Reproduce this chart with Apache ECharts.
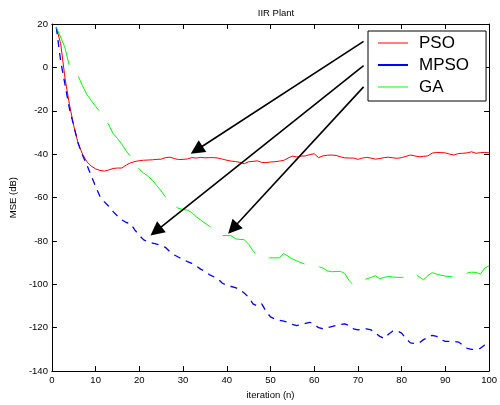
<!DOCTYPE html>
<html>
<head>
<meta charset="utf-8">
<style>html,body{margin:0;padding:0;background:#fff;}#c{width:500px;height:405px;}</style>
<script src="https://cdn.jsdelivr.net/npm/echarts@6/dist/echarts.min.js"></script>
</head>
<body>
<div id="c"></div>
<script>
var iterations = [1,2,3,4,5,6,7,8,9,10,11,12,13,14,15,16,17,18,19,20,21,22,23,24,25,26,27,28,29,30,31,32,33,34,35,36,37,38,39,40,41,42,43,44,45,46,47,48,49,50,51,52,53,54,55,56,57,58,59,60,61,62,63,64,65,66,67,68,69,70,71,72,73,74,75,76,77,78,79,80,81,82,83,84,85,86,87,88,89,90,91,92,93,94,95,96,97,98,99,100];
var psoValues = [18.5,11,-5,-17,-27,-35,-40,-43.5,-45.5,-46.8,-47.5,-47.8,-47.3,-46.6,-46.4,-46.4,-45,-44,-43.4,-43,-42.8,-42.7,-42.6,-42.4,-42.3,-41.6,-41.4,-42,-42.5,-42.4,-42.2,-41.6,-41.8,-41.5,-41.7,-41.6,-41.6,-41.8,-42.3,-42.8,-43.2,-43.4,-43.8,-44.4,-43.5,-43.3,-43.1,-43.8,-43.9,-43.6,-43.5,-43.2,-42.9,-41.8,-40.9,-41.3,-40.9,-40.8,-40.2,-39.8,-41.6,-40.8,-40.5,-40.4,-40.6,-41.2,-41.7,-41.8,-41.8,-42.4,-41.8,-41.5,-41.8,-42.3,-42.0,-41.6,-41.4,-41.7,-41.9,-41.6,-41.0,-40.4,-40.8,-41.2,-41.0,-40.8,-39.5,-39.2,-39.3,-39.4,-40.0,-40.4,-39.7,-39.6,-39.4,-38.9,-39.6,-39.3,-39.2,-39.4];
var mpsoValues = [18.5,3,-8,-19,-27,-35,-40.5,-45,-50,-55,-59.5,-62,-64,-66.5,-68.5,-70.3,-71.5,-72,-75,-77.5,-79.5,-80.5,-81,-81.5,-82.2,-83,-85,-86.5,-87.5,-88.5,-89.5,-90.3,-91.5,-93,-94,-95.5,-96.5,-97.5,-99.5,-100.5,-101,-101.5,-102.5,-104,-106,-109,-110,-109,-112.5,-115,-116,-116.5,-117,-117.5,-118.5,-119,-118.5,-118,-117.5,-118.5,-120,-120.5,-120,-119.5,-119,-118.5,-118.2,-119,-120.5,-121,-120.7,-120.5,-121,-122.5,-124,-125,-123,-121.5,-121.5,-122.5,-125,-127,-127.3,-127,-125.5,-124.5,-123.5,-124,-125.5,-126.3,-126.3,-126.3,-126.6,-128,-129.5,-130,-130,-129.5,-128,-127.5];
var gaValues = [18.5,14,9,0.6,-2,-4,-8.5,-12.5,-15.3,-18,-20.5,-23.5,-26.5,-30.5,-32.8,-35.5,-38.5,-41,-44.5,-47,-48.7,-50.2,-52,-54.5,-57,-59.8,-62,-64,-65,-65.5,-65.8,-67,-68.8,-70.3,-71.8,-73.2,-74.4,-76,-77.5,-77.5,-77.6,-79,-79.3,-79.4,-81.5,-84.5,-86.7,-87.5,-87.8,-87.8,-87.8,-87.8,-85.8,-87,-88.3,-89.2,-90,-90.8,-91.2,-91.5,-91.8,-92.5,-93.8,-94.2,-94.1,-94,-95,-98.3,-100.3,-99,-97.9,-97.5,-96.8,-96,-97.5,-96.8,-96.4,-96.6,-96.8,-96.8,-96.8,-96.8,-95.3,-96.5,-97.9,-96,-94.6,-95.3,-95.8,-96.2,-96.4,-96.6,-96.6,-95.8,-94.8,-94.4,-94.5,-95.3,-92.5,-91.5];
var seriesNames = ['PSO','MPSO','GA'];
var xTicks = [0,10,20,30,40,50,60,70,80,90,100];
var yTicks = [-140,-120,-100,-80,-60,-40,-20,0,20];
// annotation arrows: [start x, start y] -> [end x, end y] in data units
var arrowStarts = [[71.3,12.0],[71.3,0.8],[71.3,-9.0]];
var arrowEnds = [[33.1,-38.1],[23.8,-75.5],[41.4,-74.3]];

function pairs(vals){ return iterations.map(function(it,i){ return [it, vals[i]]; }); }
var FONT = 'Liberation Sans, Arial, sans-serif';
var arrowData = arrowStarts.map(function(s,i){ return [{coord:s},{coord:arrowEnds[i]}]; });

var chart = echarts.init(document.getElementById('c'), null, {renderer:'canvas'});
var axisCommon = {
  type:'value', axisLine:{show:true, onZero:false, lineStyle:{color:'#000', width:1}},
  axisTick:{show:true, inside:true, length:5, lineStyle:{color:'#000'}},
  splitLine:{show:false}
};
chart.setOption({
  animation:false,
  backgroundColor:'#fff',
  title:{text:'IIR Plant', left:271, top:3, textAlign:'center',
    textStyle:{fontFamily:FONT, fontSize:9.5, fontWeight:'normal', color:'#000'}},
  grid:{left:49, right:7, top:24, bottom:28},
  legend:{
    orient:'vertical', left:368, top:31, backgroundColor:'#fff',
    borderColor:'#000', borderWidth:1, borderRadius:0,
    padding:[1,17,3,10], itemWidth:30, itemHeight:2, itemGap:0,
    symbolKeepAspect:true,
    textStyle:{fontFamily:FONT, fontSize:17, color:'#000', lineHeight:22, padding:[0,0,0,6]},
    data:[
      {name:seriesNames[0], icon:'path://M0,0H30V1H0Z'},
      {name:seriesNames[1], icon:'path://M0,0H30V2H0Z'},
      {name:seriesNames[2], icon:'path://M0,0H30V1H0Z'}
    ],
    selectedMode:false
  },
  xAxis:[
    Object.assign({}, axisCommon, {min:xTicks[0], max:xTicks[xTicks.length-1], interval:10, position:'bottom',
      name:'iteration (n)', nameLocation:'middle', nameGap:18,
      nameTextStyle:{fontFamily:FONT, fontSize:9.5, color:'#000'},
      axisLabel:{show:true, margin:4, fontFamily:FONT, fontSize:9.5, color:'#000'}}),
    Object.assign({}, axisCommon, {min:xTicks[0], max:xTicks[xTicks.length-1], interval:10, position:'top',
      axisLabel:{show:false}})
  ],
  yAxis:[
    Object.assign({}, axisCommon, {min:yTicks[0], max:yTicks[yTicks.length-1], interval:20, position:'left',
      name:'MSE (dB)', nameLocation:'middle', nameGap:26, nameRotate:90,
      nameTextStyle:{fontFamily:FONT, fontSize:9.5, color:'#000'},
      axisLabel:{show:true, margin:4, fontFamily:FONT, fontSize:9.5, color:'#000'}}),
    Object.assign({}, axisCommon, {min:yTicks[0], max:yTicks[yTicks.length-1], interval:20, position:'right',
      axisLabel:{show:false}})
  ],
  series:[
    {name:seriesNames[0], type:'line', data:pairs(psoValues), symbol:'none', silent:true,
      color:'#ff0000', lineStyle:{color:'#ff0000', width:1}},
    {name:seriesNames[1], type:'line', data:pairs(mpsoValues), symbol:'none', silent:true,
      color:'#0000ff', lineStyle:{color:'#0000ff', width:1.3, type:[7,6]}},
    {name:seriesNames[2], type:'line', data:pairs(gaValues), symbol:'none', silent:true,
      color:'#00ff00', lineStyle:{color:'#00ff00', width:1, type:[40,15]},
      markLine:{silent:true, symbol:['none','triangle'], symbolSize:14, animation:false,
        label:{show:false},
        lineStyle:{color:'#000', width:1.6, type:'solid'},
        itemStyle:{color:'#000'},
        emphasis:{disabled:true},
        data:arrowData}}
  ]
});
</script>
</body>
</html>
